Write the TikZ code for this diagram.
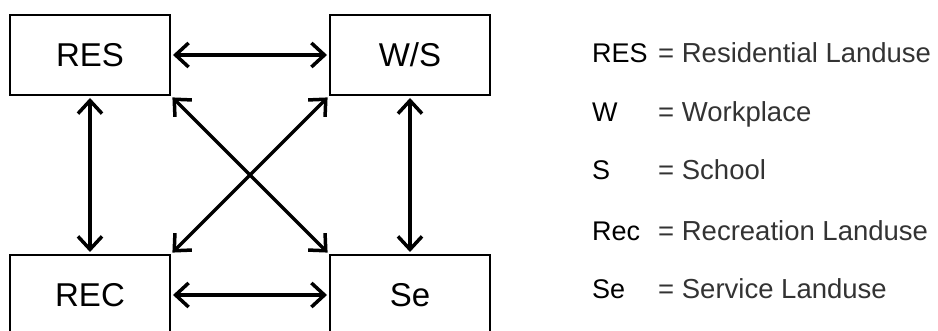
\documentclass[tikz,border=0pt]{standalone}
\usepackage{fontspec}
\setmainfont{Liberation Sans}
\usetikzlibrary{arrows.meta}
\tikzset{
  landbox/.style={draw=black, line width=2pt, minimum width=160pt, minimum height=80pt, inner sep=0pt, font=\fontsize{33}{40}\selectfont},
  arr/.style={line width=3.5pt, {Straight Barb[length=13pt,width=24pt]}-{Straight Barb[length=13pt,width=24pt]}, shorten >=2pt, shorten <=2pt},
  legkey/.style={anchor=base west, inner sep=0pt, font=\fontsize{27}{32}\selectfont},
  legdef/.style={anchor=base west, inner sep=0pt, text=black!80, font=\fontsize{27.5}{32}\selectfont}
}
\begin{document}
\begin{tikzpicture}[x=1pt,y=-1pt]
\useasboundingbox (0,0) rectangle (938,331);
\clip (0,0) rectangle (938,331);
\node[landbox] (RES) at (90,55) {\raisebox{-2.5pt}{RES}};
\node[landbox] (WS) at (410,55) {\raisebox{-2.5pt}{W/S}};
\node[landbox] (REC) at (90,295) {\raisebox{-2.5pt}{REC}};
\node[landbox] (SE) at (410,295) {\raisebox{-2.5pt}{Se}};
\draw[arr] (RES.east) -- (WS.west);
\draw[arr] (REC.east) -- (SE.west);
\draw[arr] (RES.south) -- (REC.north);
\draw[arr] (WS.south) -- (SE.north);
\draw[arr] (RES.south east) -- (SE.north west);
\draw[arr] (WS.south west) -- (REC.north east);
\node[legkey] (k1) at (592,63) {RES};
\node[legkey] (k2) at (592,122) {W};
\node[legkey] (k3) at (592,180) {S};
\node[legkey] (k4) at (592,241) {Rec};
\node[legkey] (k5) at (592,299) {Se};
\node[legdef] (d1) at (658,63) {= Residential Landuse};
\node[legdef] (d2) at (658,122) {= Workplace};
\node[legdef] (d3) at (658,180) {= School};
\node[legdef] (d4) at (658,241) {= Recreation Landuse};
\node[legdef] (d5) at (658,299) {= Service Landuse};
\end{tikzpicture}
\end{document}
